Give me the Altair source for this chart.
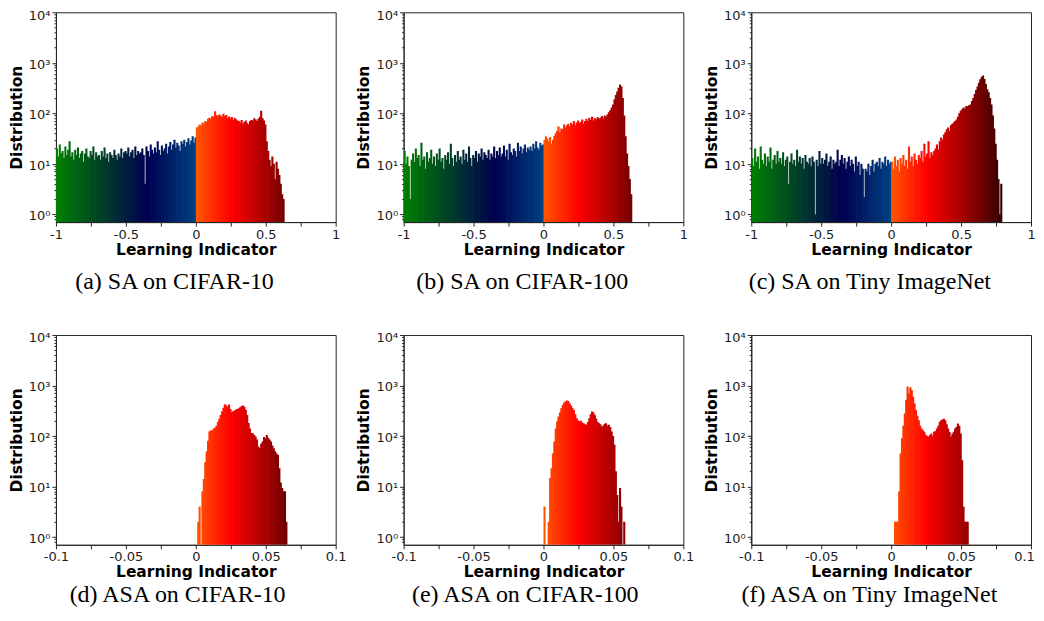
import altair as alt
import pandas as pd

# ---------------- data (bar heights) ----------------
SA_BIN = 0.01      # bin width used for the SA panels
ASA_BIN = 0.001    # bin width used for the ASA panels
Y_MIN = 0.7
Y_MAX = 10000

# (a) SA on CIFAR-10
a_neg = [20, 14, 24, 16, 18, 13, 22, 15, 19, 28,
         14, 17, 12, 19, 15, 21, 13, 16, 18, 11,
         16, 20, 14, 13, 18, 15, 22, 12, 17, 14,
         15, 12, 18, 14, 21, 13, 16, 11, 17, 15,
         13, 19, 15, 12, 16, 14, 20, 13, 17, 18,
         16, 21, 14, 17, 19, 13, 22, 15, 18, 16,
         17, 20, 15, 4, 22, 18, 14, 24, 19, 16,
         21, 17, 28, 19, 15, 23, 18, 20, 25, 16,
         22, 27, 19, 24, 30, 21, 26, 23, 18, 28,
         25, 30, 22, 27, 32, 24, 29, 35, 26, 33]
a_pos = [52, 55, 60, 58, 66, 63, 70, 68, 78, 82,
         80, 88, 85, 110, 92, 87, 95, 90, 84, 98,
         88, 92, 80, 86, 78, 84, 74, 82, 76, 72,
         70, 66, 74, 62, 68, 72, 64, 60, 70, 74,
         72, 80, 75, 70, 78, 85, 112, 80, 72, 60,
         28, 18, 12, 9, 14, 10, 5, 11, 8, 6,
         4, 2.5, 2]

# (b) SA on CIFAR-100
b_neg = [18, 10, 14, 9, 2, 12, 16, 11, 20, 13,
         15, 9, 26, 12, 14, 8, 17, 11, 13, 19,
         10, 14, 9, 16, 12, 20, 11, 13, 8, 15,
         12, 17, 10, 25, 13, 9, 15, 11, 18, 12,
         14, 10, 19, 12, 16, 11, 22, 13, 9, 15,
         13, 18, 11, 16, 14, 20, 12, 17, 15, 13,
         19, 12, 16, 14, 22, 13, 18, 15, 21, 14,
         16, 23, 14, 19, 12, 25, 17, 15, 20, 18,
         14, 26, 18, 22, 16, 20, 24, 17, 21, 19,
         22, 18, 25, 20, 28, 21, 19, 26, 23, 24]
b_pos = [30, 35, 32, 28, 34, 25, 30, 36, 40, 45,
         55, 42, 50, 48, 60, 52, 58, 62, 55, 65,
         60, 70, 58, 66, 72, 64, 68, 75, 62, 70,
         78, 70, 82, 74, 85, 72, 80, 76, 84, 78,
         82, 88, 80, 90, 85, 95, 105, 115, 130, 150,
         190, 230, 270, 320, 370, 340, 200, 90, 35, 16,
         9, 5, 2.5]

# (c) SA on Tiny ImageNet
c_neg = [13, 9, 20, 11, 14, 8, 22, 12, 10, 16,
         9, 14, 11, 21, 8, 12, 15, 10, 18, 11,
         13, 10, 17, 9, 12, 14, 4, 11, 16, 10,
         12, 9, 19, 11, 14, 10, 13, 8, 15, 11,
         10, 13, 9, 14, 11, 1, 12, 9, 18, 10,
         13, 10, 12, 16, 9, 11, 14, 8, 12, 10,
         11, 19, 9, 12, 15, 10, 13, 8, 11, 14,
         9, 12, 10, 7, 14, 9, 11, 6, 10, 8,
         2.2, 8, 7, 10, 6, 9, 12, 7, 10, 11,
         9, 13, 8, 11, 10, 14, 9, 12, 10, 11]
c_pos = [11, 8, 14, 9, 12, 7, 13, 10, 15, 9,
         12, 8, 22, 11, 14, 9, 16, 12, 10, 15,
         13, 18, 11, 25, 14, 16, 28, 13, 17, 15,
         18, 20, 24, 19, 28, 33, 30, 38, 42, 48,
         52, 45, 58, 62, 66, 70, 75, 85, 100, 112,
         120, 130, 125, 140, 138, 145, 150, 175, 200, 240,
         290, 340, 400, 470, 530, 560, 480, 380, 300, 260,
         200, 150, 90, 50, 25, 12, 5, 1, 4]

# (d) ASA on CIFAR-10
d_pos = [0, 2, 4, 0, 8, 14, 30, 49, 80, 123,
         130, 128, 140, 145, 160, 190, 220, 260, 310, 360,
         427, 400, 380, 420, 340, 296, 310, 320, 335, 340,
         355, 370, 390, 402, 380, 330, 260, 180, 140, 115,
         113, 105, 98, 85, 62, 58, 70, 78, 95, 90,
         105, 92, 85, 78, 65, 57, 50, 45, 42, 23,
         12, 9.3, 8, 8, 2]

# (e) ASA on CIFAR-100
e_pos = [4, 0, 0, 2, 14.7, 23, 45, 78, 140, 194,
         243, 290, 354, 410, 460, 480, 503, 490, 445, 400,
         360, 328, 270, 225, 205, 194, 200, 185, 179, 170,
         166, 190, 225, 270, 304, 290, 261, 220, 190, 179,
         170, 154, 160, 175, 179, 160, 166, 150, 123, 100,
         67, 20, 6.8, 2, 9.3, 4, 0, 2]

# (f) ASA on Tiny ImageNet
f_pos = [0, 0, 2, 2, 2, 8, 45, 90, 160, 280,
         514, 950, 697, 920, 810, 600, 441, 325, 250, 205,
         160, 141, 130, 121, 105, 100, 96, 104, 112, 100,
         121, 125, 141, 160, 191, 205, 213, 220, 205, 170,
         141, 120, 96, 110, 121, 140, 152, 177, 160, 112,
         33, 4, 2, 2, 2]

captions = ["(a) SA on CIFAR-10", "(b) SA on CIFAR-100", "(c) SA on Tiny ImageNet",
            "(d) ASA on CIFAR-10", "(e) ASA on CIFAR-100", "(f) ASA on Tiny ImageNet"]

sa_ticks = [-1, -0.75, -0.5, -0.25, 0, 0.25, 0.5, 0.75, 1]
sa_tick_labels = ["-1", "", "-0.5", "", "0", "", "0.5", "", "1"]
asa_ticks = [-0.1, -0.075, -0.05, -0.025, 0, 0.025, 0.05, 0.075, 0.1]
asa_tick_labels = ["-0.1", "", "-0.05", "", "0", "", "0.05", "", "0.1"]
y_major = [1, 10, 100, 1000, 10000]
y_major_labels = ["10⁰", "10¹", "10²", "10³", "10⁴"]
y_minor_mult = [2, 3, 4, 5, 6, 7, 8, 9]

color_stops = [-1.0, -0.35, -0.005, 0.005, 0.25, 0.5, 0.8]
color_range = ["#008000", "#000050", "#004080", "#ff5500", "#ff0000", "#a80000", "#300000"]


# ---------------- helpers ----------------
def make_df(segments, binw, rng):
    rows = []
    for start, counts in segments:
        for i, c in enumerate(counts):
            if c <= 0:
                continue
            x0 = start + i * binw
            rows.append({"x0": x0, "x1": x0 + binw, "count": c,
                         "t": (x0 + binw / 2) / rng})
    return pd.DataFrame(rows)


def chain(vals, labels, tol):
    expr = "''"
    for v, l in reversed(list(zip(vals, labels))):
        if l == "":
            continue
        expr = f"abs(datum.value - ({v})) < {tol} ? '{l}' : ({expr})"
    return expr


y_values = [0.8, 0.9] + [m * k for m in y_major[:-1] for k in [1] + y_minor_mult] + [y_major[-1]]
y_label_expr = chain(y_major, y_major_labels, 1e-6)
major_test = "indexof([" + ",".join(str(v) for v in y_major) + "], datum.value) >= 0"
top_test = f"datum.value == {y_major[-1]}"

cscale = alt.Scale(domain=color_stops, range=color_range, interpolate="rgb")


def panel(df, ticks, tick_labels, dom, caption, cap_offset, last_shift=0):
    x_axis_kw = dict(values=ticks, labelExpr=chain(ticks, tick_labels, 1e-9),
                     title="Learning Indicator", labelFlush=False,
                     labelOverlap=False, tickSize=4, labelPadding=2, titlePadding=1)
    if last_shift:
        x_axis_kw["labelOffset"] = alt.condition(f"datum.value == {ticks[-1]}",
                                                 alt.value(last_shift), alt.value(0))
    return alt.Chart(df).mark_bar(clip=True, x2Offset=0.7).encode(
        x=alt.X("x0:Q",
                scale=alt.Scale(domain=dom, nice=False, zero=False),
                axis=alt.Axis(**x_axis_kw)),
        x2="x1:Q",
        y=alt.Y("count:Q",
                scale=alt.Scale(type="log", domain=[Y_MIN, Y_MAX], nice=False),
                axis=alt.Axis(values=y_values, labelExpr=y_label_expr,
                              title="Distribution", labelOverlap=False,
                              tickSize=alt.condition(major_test, alt.value(4), alt.value(2)),
                              labelOffset=alt.condition(top_test, alt.value(3), alt.value(1.5)),
                              labelPadding=2, titlePadding=4)),
        y2=alt.datum(Y_MIN),
        color=alt.Color("t:Q", scale=cscale, legend=None),
    ).properties(
        width=280, height=210,
        title=alt.TitleParams(caption, orient="bottom", anchor="middle", frame="bounds",
                              font="Liberation Serif", fontSize=24,
                              fontWeight="normal", color="black", offset=cap_offset),
    )


dfs = [
    make_df([(-1.0, a_neg), (0.0, a_pos)], SA_BIN, 1.0),
    make_df([(-1.0, b_neg), (0.0, b_pos)], SA_BIN, 1.0),
    make_df([(-1.0, c_neg), (0.0, c_pos)], SA_BIN, 1.0),
    make_df([(0.0, d_pos)], ASA_BIN, 0.1),
    make_df([(0.0, e_pos)], ASA_BIN, 0.1),
    make_df([(0.0, f_pos)], ASA_BIN, 0.1),
]

panels = []
for i, df in enumerate(dfs):
    if i < 3:
        panels.append(panel(df, sa_ticks, sa_tick_labels, [-1, 1], captions[i], 12))
    else:
        panels.append(panel(df, asa_ticks, asa_tick_labels, [-0.1, 0.1], captions[i], 3,
                            last_shift=-7 if i == 5 else 0))

chart = alt.concat(
    *panels, columns=3, spacing={"row": 113, "column": 68}, bounds="flush"
).properties(
    padding={"left": 0, "top": 0, "right": 0, "bottom": 0}
).configure_view(
    stroke="#262626", strokeWidth=1
).configure_axis(
    grid=False, domainColor="#262626", tickColor="#262626",
    labelColor="#1a1a1a", labelFont="DejaVu Sans", labelFontSize=13,
    titleFont="DejaVu Sans", titleFontSize=15.5, titleFontWeight="bold",
    titleColor="black",
)

chart.save("out.html", embed_options={"renderer": "svg", "actions": False})
